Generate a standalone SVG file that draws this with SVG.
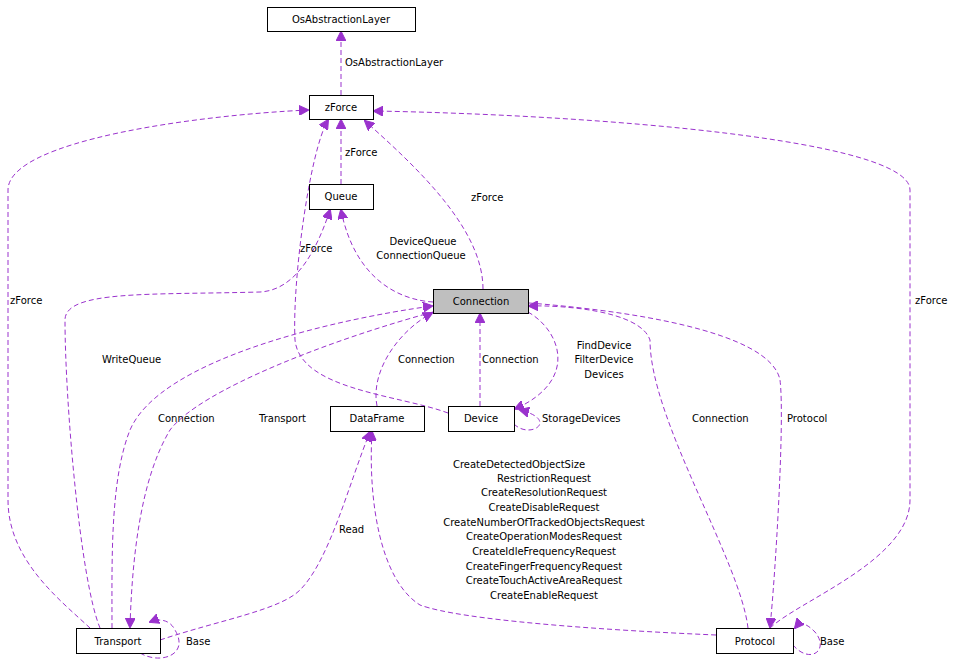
<svg xmlns="http://www.w3.org/2000/svg" width="964" height="667" viewBox="0 0 964 667">
<style>
text{font-family:"DejaVu Sans",sans-serif;font-size:10px;fill:#000}
.n rect{fill:#fff;stroke:#000;stroke-width:1}
.n text{text-anchor:middle}
.e path{fill:none;stroke:#9a32cd;stroke-dasharray:5,3}
.l{text-anchor:middle}
</style>
<defs><marker id="a" viewBox="0 0 10 10" refX="9" refY="5" markerWidth="10" markerHeight="10" markerUnits="userSpaceOnUse" orient="auto"><path d="M0,0L10,5L0,10z" fill="#9a32cd" stroke="#9a32cd"/></marker></defs>
<rect width="964" height="667" fill="#fff"/>
<g class="e" marker-end="url(#a)">
<path d="M341,95V32" marker-end="url(#a)"/>
<path d="M341,184V120" marker-end="url(#a)"/>
<path d="M483,289C483,230 420,170 365,121" marker-end="url(#a)"/>
<path d="M433,302C400,300 355,280 341,210" marker-end="url(#a)"/>
<path d="M90,628C60,600 8,560 8,500V190C8,140 200,115 308,110" marker-end="url(#a)"/>
<path d="M770,628C800,600 910,560 910,500V190C910,140 600,115 374,111" marker-end="url(#a)"/>
<path d="M448,413C400,395 300,390 295,340C292,280 310,150 328,120" marker-end="url(#a)"/>
<path d="M100,628C80,580 65,400 65,320C65,290 150,295 260,292C300,290 320,240 330,210" marker-end="url(#a)"/>
<path d="M112,628C112,560 110,480 130,430C160,360 330,320 432,306" marker-end="url(#a)"/>
<path d="M433,312C330,340 200,390 170,430C140,480 132,560 130,627" marker-end="url(#a)"/>
<path d="M377,406C370,370 400,330 432,313" marker-end="url(#a)"/>
<path d="M480,406V314" marker-end="url(#a)"/>
<path d="M528,312C560,330 580,380 515,409" marker-end="url(#a)"/>
<path d="M514,424C530,440 560,420 520,410" marker-end="url(#a)"/>
<path d="M748,628C740,560 650,420 650,340C640,310 560,305 529,306" marker-end="url(#a)"/>
<path d="M529,303C620,310 770,330 780,380C785,420 775,580 770,627" marker-end="url(#a)"/>
<path d="M160,640C220,620 280,610 300,590C330,560 350,480 370,432" marker-end="url(#a)"/>
<path d="M716,635C600,630 460,620 420,605C380,580 368,500 372,432" marker-end="url(#a)"/>
<path d="M140,653C160,665 190,655 175,630C170,620 160,618 150,622" marker-end="url(#a)"/>
<path d="M793,645C810,665 830,650 815,632C805,622 800,622 795,628" marker-end="url(#a)"/>
</g>
<g>
<text x="345" y="66">OsAbstractionLayer</text>
<text x="345" y="156">zForce</text>
<text x="471" y="201">zForce</text>
<text class="l" x="423" y="245">DeviceQueue</text>
<text class="l" x="421" y="259">ConnectionQueue</text>
<text x="10" y="304">zForce</text>
<text x="915" y="304">zForce</text>
<text x="300" y="252">zForce</text>
<text x="102" y="363">WriteQueue</text>
<text x="158" y="422">Connection</text>
<text x="259" y="422">Transport</text>
<text x="398" y="363">Connection</text>
<text x="482" y="363">Connection</text>
<text class="l" x="604" y="349">FindDevice</text>
<text class="l" x="604" y="363">FilterDevice</text>
<text class="l" x="604" y="378">Devices</text>
<text x="542" y="422">StorageDevices</text>
<text x="692" y="422">Connection</text>
<text x="787" y="422">Protocol</text>
<text x="339" y="533">Read</text>
<text class="l" x="519" y="468">CreateDetectedObjectSize</text>
<text class="l" x="544" y="482">RestrictionRequest</text>
<text class="l" x="544" y="496">CreateResolutionRequest</text>
<text class="l" x="544" y="511">CreateDisableRequest</text>
<text class="l" x="544" y="526">CreateNumberOfTrackedObjectsRequest</text>
<text class="l" x="544" y="540">CreateOperationModesRequest</text>
<text class="l" x="544" y="555">CreateIdleFrequencyRequest</text>
<text class="l" x="544" y="570">CreateFingerFrequencyRequest</text>
<text class="l" x="544" y="584">CreateTouchActiveAreaRequest</text>
<text class="l" x="544" y="599">CreateEnableRequest</text>
<text x="186" y="645">Base</text>
<text x="820" y="645">Base</text>
</g>
<g id="OsAbstractionLayer" class="n"><rect x="267.5" y="7.5" width="148" height="24"/><text x="341" y="23">OsAbstractionLayer</text></g>
<g id="zForce" class="n"><rect x="309.5" y="95.5" width="64" height="24"/><text x="341" y="111">zForce</text></g>
<g id="Queue" class="n"><rect x="309.5" y="184.5" width="64" height="25"/><text x="341" y="200">Queue</text></g>
<g id="Connection" class="n"><rect x="433.5" y="289.5" width="95" height="24" style="fill:#bfbfbf"/><text x="481" y="305">Connection</text></g>
<g id="DataFrame" class="n"><rect x="330.5" y="406.5" width="94" height="25"/><text x="377" y="422">DataFrame</text></g>
<g id="Device" class="n"><rect x="448.5" y="406.5" width="66" height="25"/><text x="481" y="422">Device</text></g>
<g id="Transport" class="n"><rect x="76.5" y="628.5" width="84" height="25"/><text x="118" y="645">Transport</text></g>
<g id="Protocol" class="n"><rect x="716.5" y="628.5" width="77" height="25"/><text x="755" y="645">Protocol</text></g>
</svg>
